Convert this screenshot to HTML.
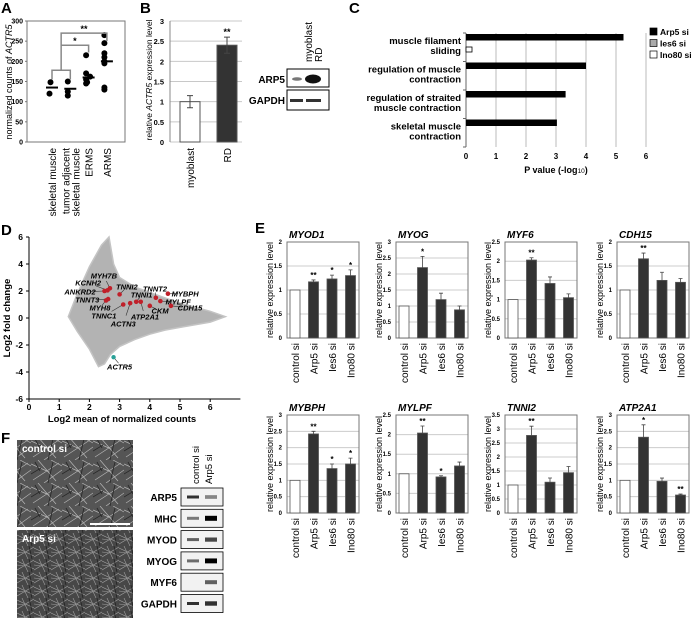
<!DOCTYPE html>
<html><head><meta charset="utf-8"><style>
html,body{margin:0;padding:0;background:#fff;}
svg{display:block;font-family:"Liberation Sans",Arial,sans-serif;}
</style></head><body>
<svg id="fig" width="694" height="618" viewBox="0 0 694 618" xmlns="http://www.w3.org/2000/svg">
<defs>
<pattern id="cells1" width="31" height="23" patternUnits="userSpaceOnUse">
<rect width="31" height="23" fill="#555"/>
<path d="M0 4 L18 12 M7 0 L25 21 M2 20 L28 3 M13 23 L31 10 M20 0 L31 6" stroke="#b5b5b5" stroke-width="0.7" fill="none"/>
<path d="M0 14 L10 8 M22 2 L17 23 M4 2 L9 11" stroke="#2a2a2a" stroke-width="0.9" fill="none"/>
</pattern>
<pattern id="cells2" width="17" height="13" patternUnits="userSpaceOnUse">
<rect width="17" height="13" fill="#474747"/>
<path d="M0 2 L17 10 M0 11 L17 1 M5 0 L11 13 M0 6 L8 7" stroke="#a0a0a0" stroke-width="0.6" fill="none"/>
<path d="M12 0 L15 13" stroke="#222" stroke-width="0.8"/>
</pattern>
</defs>
</svg>
<script>
// ---------- DATA ----------
const aCats = ['skeletal muscle', 'tumor adjacent|skeletal muscle', 'ERMS', 'ARMS'];
const aPoints = [[148, 120], [150, 125, 115], [215, 170, 162, 155, 148, 145], [265, 245, 220, 210, 200, 195, 135, 130]];
const aMedians = [135, 132, 160, 200];
const aTicks = [0, 50, 100, 150, 200, 250, 300];

const bCats = ['myoblast', 'RD'];
const bVals = [1.0, 2.4];
const bErr = [0.15, 0.2];
const bTicks = [0, 0.5, 1, 1.5, 2, 2.5, 3];

const cCats = [['muscle filament', 'sliding'], ['regulation of  muscle', 'contraction'], ['regulation of straited', 'muscle contraction'], ['skeletal muscle', 'contraction']];
const cArp5 = [5.25, 4.0, 3.32, 3.03];
const cIes6 = [0, 0, 0, 0];
const cIno80 = [0.2, 0, 0, 0];
const cTicks = [0, 1, 2, 3, 4, 5, 6];

const dGenes = ['MYH7B', 'KCNH2', 'ANKRD2', 'TNNT3', 'MYH8', 'TNNI2', 'TNNC1', 'ACTN3', 'TNNI1', 'ATP2A1', 'TNNT2', 'CKM', 'MYBPH', 'MYLPF', 'CDH15'];
const dMean = [2.68, 2.6, 2.5, 2.62, 2.55, 3.0, 3.12, 3.35, 3.55, 3.7, 4.2, 4.0, 4.6, 4.35, 4.7];
const dFC = [2.2, 2.05, 2.0, 1.4, 1.3, 1.75, 1.0, 1.1, 1.2, 1.2, 1.5, 0.9, 1.8, 1.25, 0.9];
const dLabX = [2.48, 1.96, 1.69, 1.93, 2.35, 3.24, 2.48, 3.12, 3.73, 3.84, 4.17, 4.34, 5.17, 4.94, 5.33];
const dLabY = [3.1, 2.6, 1.93, 1.33, 0.74, 2.3, 0.15, -0.44, 1.7, 0.07, 2.15, 0.52, 1.78, 1.18, 0.74];
const dOutX = [1.3, 1.6, 2.0, 2.4, 2.65, 2.8, 3.0, 3.5, 4.0, 4.5, 5.0, 5.5, 6.0, 6.5, 6.0, 5.5, 5.0, 4.5, 4.0, 3.5, 3.0, 2.7, 2.5, 2.3, 2.0, 1.6];
const dOutY = [0.1, 1.8, 3.8, 5.4, 6.0, 4.0, 3.0, 2.3, 1.9, 1.5, 1.1, 0.8, 0.5, 0.1, -0.3, -0.5, -0.7, -0.9, -1.2, -1.6, -2.1, -2.7, -3.4, -3.6, -2.3, -1.0];
const dActrMean = 2.8, dActrFC = -2.9;
const dXTicks = [0, 1, 2, 3, 4, 5, 6];
const dYTicks = [-6, -4, -2, 0, 2, 4, 6];

const eCats = ['control si', 'Arp5 si', 'Ies6 si', 'Ino80 si'];
const eGenes = ['MYOD1', 'MYOG', 'MYF6', 'CDH15', 'MYBPH', 'MYLPF', 'TNNI2', 'ATP2A1'];
const eMax = [2, 3, 2.5, 2, 3, 2.5, 3.5, 3];
const eVals = [[1, 1.17, 1.23, 1.3], [1, 2.2, 1.2, 0.88], [1, 2.03, 1.42, 1.05], [1, 1.65, 1.2, 1.16],
               [1, 2.42, 1.36, 1.5], [1, 2.04, 0.92, 1.2], [1, 2.77, 1.1, 1.44], [1, 2.32, 0.97, 0.55]];
const eErr = [[0, 0.04, 0.08, 0.12], [0, 0.35, 0.2, 0.12], [0, 0.06, 0.17, 0.1], [0, 0.12, 0.17, 0.08],
              [0, 0.08, 0.14, 0.18], [0, 0.18, 0.03, 0.1], [0, 0.33, 0.15, 0.22], [0, 0.38, 0.1, 0.03]];
const eStars = [['', '**', '*', '*'], ['', '*', '', ''], ['', '**', '', ''], ['', '**', '', ''],
                ['', '**', '*', '*'], ['', '**', '*', ''], ['', '**', '', ''], ['', '*', '', '**']];

const fBlots = ['ARP5', 'MHC', 'MYOD', 'MYOG', 'MYF6', 'GAPDH'];
const fCtrl = [0.8, 0.5, 0.6, 0.55, 0, 0.8];
const fArp5 = [0.35, 1.0, 0.6, 0.95, 0.5, 0.7];

// ---------- HELPERS ----------
const svg = document.getElementById('fig');
const NS = 'http://www.w3.org/2000/svg';
function mk(tag, attrs, parent) {
  const e = document.createElementNS(NS, tag);
  for (const k in attrs) e.setAttribute(k, attrs[k]);
  (parent || svg).appendChild(e);
  return e;
}
function txt(x, y, s, size, opts, parent) {
  opts = opts || {};
  const t = mk('text', {x: x, y: y, 'font-size': size, fill: opts.fill || '#000', 'text-anchor': opts.anchor || 'start', 'font-weight': opts.bold ? 'bold' : 'normal', 'font-style': opts.italic ? 'italic' : 'normal'}, parent);
  if (opts.rot) t.setAttribute('transform', 'rotate(' + opts.rot + ' ' + x + ' ' + y + ')');
  t.textContent = s;
  return t;
}
function grp(parent) { return mk('g', {}, parent); }

['A', 'B', 'C', 'D', 'E', 'F'].forEach(function (L, i) {
  const pos = [[1, 13], [140, 13], [349, 13], [1, 235], [255, 233], [1, 443]][i];
  const t = txt(pos[0], pos[1], L, 15, {bold: true});
  
  
});

// ---------- PANEL A ----------
(function () {
  const g = grp();
  
  
  const L = 27, R = 125, T = 21, B = 142;
  const yA = v => B - v * (B - T) / 300;
  const xA = i => 52 + i * 18.3;
  mk('rect', {x: L, y: T, width: R - L, height: B - T, fill: 'none', stroke: '#777', 'stroke-width': 1}, g);
  aTicks.forEach(function (v) {
    const t = txt(L - 4, yA(v) + 2.5, String(v), 7, {anchor: 'end', bold: true}, g);
    
    
    mk('line', {x1: L - 2, x2: L, y1: yA(v), y2: yA(v), stroke: '#777'}, g);
  });
  const yt = txt(12, 82, '', 9, {anchor: 'middle', rot: -90}, g);
  yt.innerHTML = 'normalized counts of <tspan font-style="italic">ACTR5</tspan>';
  
  
  aPoints.forEach(function (pts, i) {
    pts.forEach(function (v) {
      const c = mk('circle', {cx: xA(i) + ((v * 7) % 5 - 2.5), cy: yA(v), r: 3, fill: '#000'}, g);
      
      
    });
    const m = mk('line', {x1: xA(i) - 6, x2: xA(i) + 6, y1: yA(aMedians[i]), y2: yA(aMedians[i]), stroke: '#000', 'stroke-width': 2}, g);
    
    
    const parts = aCats[i].split('|');
    parts.forEach(function (p, j) {
      const off = parts.length > 1 ? (j === 0 ? -1 : 9) : 4;
      const t = txt(xA(i) + off, B + 6, p, 10, {anchor: 'end', rot: -90}, g);
      
      
    });
  });
  const br = '#888';
  mk('path', {d: 'M' + xA(0) + ' ' + yA(155) + ' V' + yA(178) + ' H' + xA(1) + ' V' + yA(155), fill: 'none', stroke: br, 'stroke-width': 1.5}, g);
  const cx = (xA(0) + xA(1)) / 2;
  mk('path', {d: 'M' + cx + ' ' + yA(178) + ' V' + yA(270) + ' H' + xA(3) + ' V' + yA(250), fill: 'none', stroke: br, 'stroke-width': 1.5}, g);
  mk('path', {d: 'M' + cx + ' ' + yA(240) + ' H' + xA(2) + ' V' + yA(222), fill: 'none', stroke: br, 'stroke-width': 1.5}, g);
  txt((cx + xA(2)) / 2, yA(240) - 1, '*', 9, {anchor: 'middle', bold: true}, g);
  txt((cx + xA(3)) / 2, yA(270) - 1, '**', 9, {anchor: 'middle', bold: true}, g);
})();

// ---------- PANEL B ----------
(function () {
  const g = grp();
  
  
  const L = 170, R = 242, T = 21, B = 142;
  const yB = v => B - v * (B - T) / 3;
  bTicks.forEach(function (v) {
    mk('line', {x1: L, x2: R, y1: yB(v), y2: yB(v), stroke: '#c8c8c8'}, g);
    const t = txt(L - 6, yB(v) + 3, String(v), 7.5, {anchor: 'end', bold: true}, g);
    
    
  });
  mk('line', {x1: L, x2: L, y1: T, y2: B, stroke: '#888'}, g);
  const yt = txt(152, 80, '', 8.5, {anchor: 'middle', rot: -90}, g);
  yt.innerHTML = 'relative <tspan font-style="italic">ACTR5</tspan> expression level';
  
  
  bVals.forEach(function (v, i) {
    const x = 180 + i * 37;
    const r = mk('rect', {x: x, y: yB(v), width: 20, height: B - yB(v), fill: i ? '#333' : '#fff', stroke: '#555'}, g);
    
    
    mk('path', {d: 'M' + (x + 7) + ' ' + yB(v + bErr[i]) + ' H' + (x + 13) + ' M' + (x + 10) + ' ' + yB(v + bErr[i]) + ' V' + yB(v - bErr[i]) + ' M' + (x + 7) + ' ' + yB(v - bErr[i]) + ' H' + (x + 13), stroke: '#444', fill: 'none'}, g);
    const c = txt(x + 14, B + 6, bCats[i], 10, {anchor: 'end', rot: -90}, g);
    
    
  });
  txt(180 + 37 + 10, yB(2.6) - 2, '**', 9, {anchor: 'middle', bold: true}, g);
  const w = grp(g);
  
  
  mk('rect', {x: 287, y: 69, width: 42, height: 18, fill: '#fff', stroke: '#000'}, w);
  mk('rect', {x: 287, y: 90, width: 42, height: 20, fill: '#fff', stroke: '#000'}, w);
  mk('ellipse', {cx: 297, cy: 79, rx: 5, ry: 1.8, fill: '#777'}, w);
  mk('ellipse', {cx: 313, cy: 79, rx: 8, ry: 4.5, fill: '#111'}, w);
  mk('rect', {x: 290, y: 99, width: 13, height: 3, fill: '#333'}, w);
  mk('rect', {x: 306, y: 99, width: 15, height: 3, fill: '#333'}, w);
  txt(285, 83, 'ARP5', 10, {anchor: 'end', bold: true}, w);
  txt(285, 104, 'GAPDH', 10, {anchor: 'end', bold: true}, w);
  txt(312, 62, 'myoblast', 10, {rot: -90}, w);
  txt(322, 62, 'RD', 10, {rot: -90}, w);
})();

// ---------- PANEL C ----------
(function () {
  const g = grp();
  
  
  const T = 33, B = 147, gh = (B - T) / 4;
  const xC = v => 466 + v * 30;
  cTicks.forEach(function (v) {
    if (v > 0) mk('line', {x1: xC(v), x2: xC(v), y1: T, y2: B, stroke: '#bbb'}, g);
    const t = txt(xC(v), 159, String(v), 8, {anchor: 'middle', bold: true}, g);
    
    
  });
  mk('line', {x1: 466, x2: 466, y1: T, y2: B, stroke: '#666'}, g);
  for (let i = 0; i <= 4; i++) mk('line', {x1: 463, x2: 466, y1: T + i * gh, y2: T + i * gh, stroke: '#666'}, g);
  const xt = txt(xC(3), 173, '', 9, {anchor: 'middle', bold: true}, g);
  xt.innerHTML = 'P value (-log<tspan font-size="6.5" font-weight="normal">10</tspan>)';
  
  
  cCats.forEach(function (c, i) {
    const top = T + i * gh;
    const r1 = mk('rect', {x: 466, y: top + 1, width: xC(cArp5[i]) - 466, height: 6.5, fill: '#000'}, g);
    
    
    if (cIes6[i] > 0) {
      const r2 = mk('rect', {x: 466, y: top + 7.5, width: xC(cIes6[i]) - 466, height: 6, fill: '#aaa', stroke: '#000', 'stroke-width': 0.6}, g);
      
      
    }
    if (cIno80[i] > 0) {
      const r3 = mk('rect', {x: 466, y: top + 14, width: xC(cIno80[i]) - 466, height: 5, fill: '#fff', stroke: '#000', 'stroke-width': 0.8}, g);
      
      
    }
    c.forEach(function (line, j) {
      const t = txt(461, top + 11 + j * 10, line, 9.5, {anchor: 'end', bold: true}, g);
      
      
    });
  });
  const lg = grp(g);
  
  
  [['Arp5 si', '#000'], ['Ies6 si', '#aaa'], ['Ino80 si', '#fff']].forEach(function (e, i) {
    const y = 28 + i * 11.5;
    mk('rect', {x: 650, y: y, width: 7, height: 7, fill: e[1], stroke: '#000', 'stroke-width': 0.7}, lg);
    const t = txt(660, y + 7, e[0], 8.5, {bold: true}, lg);
    
    
  });
})();

// ---------- PANEL D ----------
(function () {
  const g = grp();
  
  
  const X0 = 29, Y0 = 318;
  const xD = v => X0 + v * 30.2;
  const yD = v => Y0 - v * 13.5;
  let d = '';
  dOutX.forEach(function (v, i) { d += (i ? 'L' : 'M') + xD(v).toFixed(1) + ' ' + yD(dOutY[i]).toFixed(1) + ' '; });
  const cloud = mk('path', {d: d + 'Z', fill: '#b3b3b3', stroke: '#c4c4c4', 'stroke-width': 1.5}, g);
  
  
  mk('line', {x1: X0, x2: X0, y1: yD(6), y2: yD(-6), stroke: '#000'}, g);
  mk('line', {x1: X0, x2: xD(7), y1: yD(-6), y2: yD(-6), stroke: '#000'}, g);
  dYTicks.forEach(function (v) {
    mk('line', {x1: X0 - 3, x2: X0, y1: yD(v), y2: yD(v), stroke: '#000'}, g);
    const t = txt(X0 - 6, yD(v) + 3, String(v), 8.5, {anchor: 'end', bold: true}, g);
    
    
  });
  dXTicks.forEach(function (v) {
    mk('line', {x1: xD(v), x2: xD(v), y1: yD(-6), y2: yD(-6) + 3, stroke: '#000'}, g);
    const t = txt(xD(v), 410, String(v), 8.5, {anchor: 'middle', bold: true}, g);
    
    
  });
  const xt = txt(122, 422, 'Log2 mean of normalized counts', 9.5, {anchor: 'middle', bold: true}, g);
  
  
  const yt = txt(10, 318, 'Log2 fold change', 9.5, {anchor: 'middle', bold: true, rot: -90}, g);
  
  
  dGenes.forEach(function (gn, i) {
    const px = xD(dMean[i]), py = yD(dFC[i]);
    const lx = xD(dLabX[i]), ly = yD(dLabY[i]);
    mk('line', {x1: px, y1: py, x2: px + (lx - px) * 0.6, y2: py + (ly - py) * 0.6, stroke: '#333', 'stroke-width': 0.6}, g);
    const c = mk('circle', {cx: px, cy: py, r: 2.3, fill: '#c0202a'}, g);
    
    
    const t = txt(lx, ly + 2.5, gn, 7.5, {bold: true, italic: true, anchor: 'middle'}, g);
    
    
  });
  mk('line', {x1: xD(dActrMean), y1: yD(dActrFC), x2: xD(dActrMean) + 5, y2: yD(dActrFC) + 6, stroke: '#333', 'stroke-width': 0.6}, g);
  const ac = mk('circle', {cx: xD(dActrMean), cy: yD(dActrFC), r: 2.2, fill: '#2aa198'}, g);
  
  
  txt(xD(dActrMean) + 6, yD(dActrFC) + 12.5, 'ACTR5', 7.5, {bold: true, italic: true, anchor: 'middle'}, g);
})();

// ---------- PANEL E ----------
eGenes.forEach(function (gene, k) {
  const g = grp();
  
  
  const col = k % 4, row = Math.floor(k / 4);
  const L = [287, 396, 505, 617][col], R = L + 72;
  const T = row ? 415 : 242, B = row ? 513 : 338;
  const max = eMax[k];
  const yE = v => B - v * (B - T) / max;
  for (let v = 0; v <= max + 1e-9; v += 0.5) {
    mk('line', {x1: L, x2: R, y1: yE(v), y2: yE(v), stroke: '#ccc'}, g);
    const t = txt(L - 5, yE(v) + 2, String(v), 6, {anchor: 'end', bold: true}, g);
    
    
  }
  mk('rect', {x: L, y: T, width: R - L, height: B - T, fill: 'none', stroke: '#777'}, g);
  const title = txt(L + 2, T - 4, gene, 10, {bold: true, italic: true}, g);
  
  
  const yt = txt(L - 14, (T + B) / 2, 'relative expression level', 9, {anchor: 'middle', rot: -90}, g);
  
  
  eVals[k].forEach(function (v, i) {
    const cx = L + 8 + i * 18.5;
    const r = mk('rect', {x: cx - 5, y: yE(v), width: 10, height: B - yE(v), fill: i ? '#333' : '#fff', stroke: '#555', 'stroke-width': 0.8}, g);
    
    
    const e = eErr[k][i];
    if (e > 0) mk('path', {d: 'M' + cx + ' ' + yE(v) + ' V' + yE(v + e) + ' M' + (cx - 2) + ' ' + yE(v + e) + ' H' + (cx + 2), stroke: '#444', fill: 'none', 'stroke-width': 0.8}, g);
    if (eStars[k][i]) txt(cx, yE(v + e) - 2, eStars[k][i], 8, {anchor: 'middle', bold: true}, g);
    const c = txt(cx + 4, B + 5, eCats[i], 10, {anchor: 'end', rot: -90}, g);
    
    
  });
});

// ---------- PANEL F ----------
(function () {
  const g = grp();
  
  
  const p1 = mk('rect', {x: 17, y: 440, width: 116, height: 87, fill: 'url(#cells1)'}, g);
  
  
  const p2 = mk('rect', {x: 17, y: 530, width: 116, height: 88, fill: 'url(#cells2)'}, g);
  
  
  mk('rect', {x: 90, y: 523, width: 40, height: 2, fill: '#fff'}, g);
  txt(22, 452, 'control si', 10, {fill: '#fff', bold: true}, g);
  txt(22, 542, 'Arp5 si', 10, {fill: '#fff', bold: true}, g);
  txt(199, 484, 'control si', 9.5, {rot: -90}, g);
  txt(212, 484, 'Arp5 si', 9.5, {rot: -90}, g);
  fBlots.forEach(function (b, i) {
    const y = 488 + i * 21.3;
    const bx = mk('rect', {x: 181, y: y, width: 42, height: 18, fill: '#f2f2f2', stroke: '#000', 'stroke-width': 0.8}, g);
    
    
    if (fCtrl[i] > 0) mk('rect', {x: 187, y: y + 7.5, width: 12, height: 3, fill: '#000', opacity: fCtrl[i]}, g);
    if (fArp5[i] > 0) mk('rect', {x: 205, y: y + 7.5 - fArp5[i], width: 12, height: 3 + fArp5[i] * 2, fill: '#000', opacity: Math.min(1, fArp5[i] + 0.1)}, g);
    const t = txt(177, y + 13, b, 10, {anchor: 'end', bold: true}, g);
    
    
  });
})();
</script>
</body></html>
